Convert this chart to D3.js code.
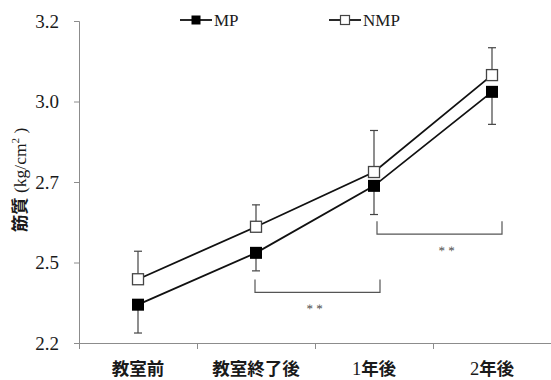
<!DOCTYPE html>
<html>
<head>
<meta charset="utf-8">
<script src="https://cdn.jsdelivr.net/npm/d3@7/dist/d3.min.js"></script>
<style>
  html, body { margin: 0; padding: 0; background: #fff; }
  svg { display: block; }
</style>
</head>
<body>
<svg id="chart" width="551" height="380"></svg>
<script>
// Measurement periods
const categories = ["教室前", "教室終了後", "1年後", "2年後"];
// Group means and standard deviations
const mpValues  = [2.369, 2.530, 2.738, 3.030];
const mpErrors  = [0.088, 0.056, 0.089, 0.101];
const nmpValues = [2.448, 2.611, 2.781, 3.082];
const nmpErrors = [0.087, 0.068, 0.129, 0.085];
// Y axis ticks and their printed labels
const yTickValues = [2.25, 2.5, 2.75, 3.0, 3.25];
const yTickLabels = ["2.2", "2.5", "2.7", "3.0", "3.2"];
// Significance brackets (between period indexes, at a value level)
const brackets = [
  { from: 1, to: 2, level: 2.407, label: "* *" },
  { from: 2, to: 3, level: 2.588, label: "* *" }
];

const svg = d3.select("#chart");
const serif = "'Liberation Serif', 'Times New Roman', serif";
const gothic = "'Noto Sans CJK JP', sans-serif";

const x = d3.scaleBand().domain(d3.range(categories.length)).range([79, 551]).padding(0);
const y = d3.scaleLinear().domain([2.25, 3.25]).range([343, 21]);
const cx = i => x(i) + x.bandwidth() / 2;

// Y axis
const yAxis = svg.append("g")
  .attr("transform", "translate(79,0)")
  .call(d3.axisLeft(y).tickValues(yTickValues)
    .tickFormat((d, i) => yTickLabels[i]).tickSize(5).tickPadding(15));
yAxis.select(".domain").attr("stroke", "#8c8c8c").attr("stroke-width", 1);
yAxis.selectAll(".tick line").attr("stroke", "#8c8c8c");
yAxis.selectAll(".tick text")
  .attr("font-family", serif).attr("font-size", 19).attr("fill", "#1a1a1a");

// X axis: baseline, boundary ticks, category labels
svg.append("line").attr("x1", 79).attr("x2", 551).attr("y1", 343.5).attr("y2", 343.5)
  .attr("stroke", "#8c8c8c");
const bounds = d3.range(categories.length + 1).map(i => i < categories.length ? x(i) : x.range()[1] - 0.5);
svg.selectAll(".xtick").data(bounds).join("line")
  .attr("x1", d => Math.round(d) + 0.5).attr("x2", d => Math.round(d) + 0.5)
  .attr("y1", 343).attr("y2", 349).attr("stroke", "#8c8c8c");

const xl = svg.selectAll(".xlabel").data(categories).join("text")
  .attr("x", (d, i) => cx(i)).attr("y", 375)
  .attr("text-anchor", "middle").attr("font-size", 17.5).attr("fill", "#1a1a1a");
xl.each(function(d) {
  const t = d3.select(this);
  const m = d.match(/^(\d*)(.*)$/);
  if (m[1]) t.append("tspan").attr("font-family", serif).attr("font-size", 18.5).text(m[1]);
  t.append("tspan").attr("font-family", gothic).attr("font-weight", "bold").text(m[2]);
});

// Y axis title
const yt = svg.append("text")
  .attr("transform", "translate(26,180) rotate(-90)")
  .attr("text-anchor", "middle").attr("fill", "#1a1a1a").attr("font-size", 17.5);
yt.append("tspan").attr("font-family", gothic).attr("font-weight", "bold").text("筋質");
yt.append("tspan").attr("font-family", serif).text(" (kg/cm");
yt.append("tspan").attr("font-family", serif).attr("font-size", 11).attr("dy", -7).text("2");
yt.append("tspan").attr("font-family", serif).attr("dy", 7).text(" )");

// Error bars: MP downward, NMP upward
function errorBars(values, errors, dir) {
  const g = svg.append("g").attr("stroke", "#444").attr("stroke-width", 1.2);
  values.forEach((v, i) => {
    const y0 = y(v), y1 = y(v + dir * errors[i]);
    g.append("line").attr("x1", cx(i)).attr("x2", cx(i)).attr("y1", y0).attr("y2", y1);
    g.append("line").attr("x1", cx(i) - 4).attr("x2", cx(i) + 4).attr("y1", y1).attr("y2", y1);
  });
}
errorBars(mpValues, mpErrors, -1);
errorBars(nmpValues, nmpErrors, 1);

// Lines
const line = d3.line().x((d, i) => cx(i)).y(d => y(d));
[mpValues, nmpValues].forEach(vals => {
  svg.append("path").datum(vals).attr("d", line)
    .attr("fill", "none").attr("stroke", "#111").attr("stroke-width", 1.8);
});

// Markers
const ms = 12;
svg.selectAll(".mp").data(mpValues).join("rect")
  .attr("x", (d, i) => cx(i) - ms / 2).attr("y", d => y(d) - ms / 2)
  .attr("width", ms).attr("height", ms).attr("fill", "#000");
const ns = 11;
svg.selectAll(".nmp").data(nmpValues).join("rect")
  .attr("x", (d, i) => cx(i) - ns / 2).attr("y", d => y(d) - ns / 2)
  .attr("width", ns).attr("height", ns).attr("fill", "#fff")
  .attr("stroke", "#444").attr("stroke-width", 1.3);

// Significance brackets
const bOffsets = [[-1, 6, -3], [3, 10, 7]];
brackets.forEach((b, k) => {
  const x1 = cx(b.from) + bOffsets[k][0], x2 = cx(b.to) + bOffsets[k][1];
  const yb = y(b.level), yt2 = yb - 13;
  svg.append("path")
    .attr("d", `M${x1},${yt2}V${yb}H${x2}V${yt2}`)
    .attr("fill", "none").attr("stroke", "#555").attr("stroke-width", 1.2);
  svg.append("text").attr("x", (x1 + x2) / 2 + bOffsets[k][2]).attr("y", yb + 21)
    .attr("text-anchor", "middle").attr("font-family", serif).attr("font-size", 13)
    .attr("fill", "#555").style("text-rendering", "geometricPrecision").text(b.label);
});

// Legend
const legend = [
  { name: "MP", fill: "#000", stroke: "none", x0: 180 },
  { name: "NMP", fill: "#fff", stroke: "#444", x0: 329 }
];
legend.forEach(l => {
  const g = svg.append("g").attr("transform", `translate(${l.x0},20)`);
  g.append("line").attr("x1", 0).attr("x2", 32).attr("y1", 0).attr("y2", 0)
    .attr("stroke", "#111").attr("stroke-width", 1.8);
  g.append("rect").attr("x", 16 - 4.5).attr("y", -4.5).attr("width", 9).attr("height", 9)
    .attr("fill", l.fill).attr("stroke", l.stroke).attr("stroke-width", 1.2);
  g.append("text").attr("x", 34).attr("y", 5.5).attr("font-family", serif)
    .attr("font-size", 17).attr("fill", "#1a1a1a").text(l.name);
});
</script>
</body>
</html>
